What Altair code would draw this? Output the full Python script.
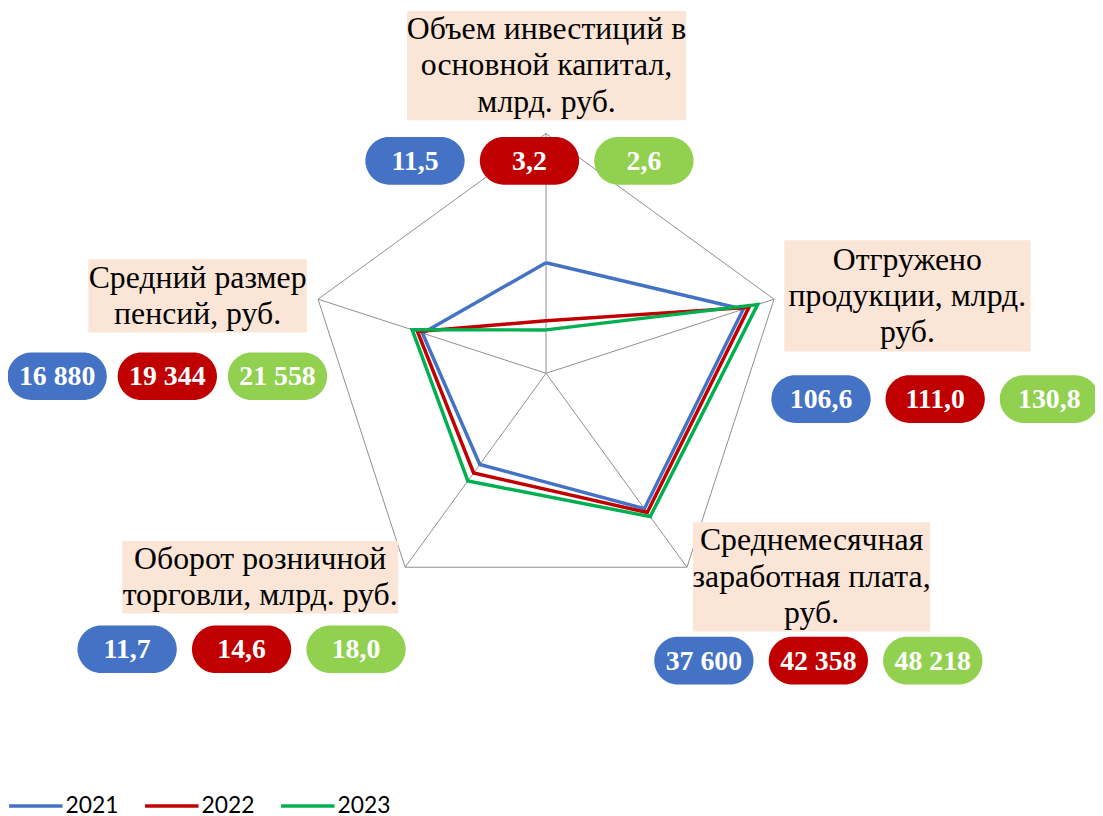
import math
import altair as alt
import pandas as pd

# ---------------- data ----------------
categories = [
    "Объем инвестиций в основной капитал, млрд. руб.",
    "Отгружено продукции, млрд. руб.",
    "Среднемесячная заработная плата, руб.",
    "Оборот розничной торговли, млрд. руб.",
    "Средний размер пенсий, руб.",
]
category_labels = [
    "Объем инвестиций в\nосновной капитал,\nмлрд. руб.",
    "Отгружено\nпродукции, млрд.\nруб.",
    "Среднемесячная\nзаработная плата,\nруб.",
    "Оборот розничной\nторговли, млрд. руб.",
    "Средний размер\nпенсий, руб.",
]
years = ["2021", "2022", "2023"]

# plotted (normalised) position on each radar spoke, % of outer ring
plotted_2021 = [46.1, 86.5, 69.8, 47.0, 54.2]
plotted_2022 = [21.9, 89.0, 71.8, 51.4, 56.4]
plotted_2023 = [18.1, 92.8, 73.9, 55.5, 58.7]

# value captions
values_2021 = ["11,5", "106,6", "37 600", "11,7", "16 880"]
values_2022 = ["3,2", "111,0", "42 358", "14,6", "19 344"]
values_2023 = ["2,6", "130,8", "48 218", "18,0", "21 558"]

line_colors = ["#4472C4", "#C00000", "#00B050"]
pill_colors = ["#4472C4", "#C00000", "#92D050"]

# ---------------- layout (page pixels) ----------------
CX, CY, R = 550, 373, 241.5
MARGIN = 8
W, H = 1095, 808
LINE_H = 36.5
# label box: x0, x1, y0, y1 ; pill row: first centre x, step, centre y
layout = [
    dict(box=(410, 691, 8, 118), pill=(418, 115.3, 159)),
    dict(box=(790, 1038, 239, 351), pill=(827, 115.0, 399)),
    dict(box=(698, 937, 523, 633), pill=(709, 115.3, 662.5)),
    dict(box=(123, 401, 542, 615), pill=(128, 115.3, 651)),
    dict(box=(89, 309, 258, 332), pill=(57.5, 111.0, 376)),
]
PILL_W, PILL_H = 100, 48

n = len(categories)
series = {"2021": plotted_2021, "2022": plotted_2022, "2023": plotted_2023}
captions = {"2021": values_2021, "2022": values_2022, "2023": values_2023}

rows = []
for y in years:
    for k in range(n + 1):
        i = k % n
        rows.append(dict(year=y, idx=i, order=k, value=series[y][i]))
lines_df = pd.DataFrame(rows)

grid_df = pd.DataFrame([dict(idx=k % n, order=k, value=100.0) for k in range(n + 1)])
spokes_df = pd.DataFrame([dict(idx=i, value=100.0) for i in range(n)])

box_rows = []
for i in range(n):
    x0, x1, y0, y1 = layout[i]["box"]
    box_rows.append(dict(category=categories[i], label=category_labels[i],
                         x0=x0, x1=x1, y0=y0, y1=y1))
boxes_df = pd.DataFrame(box_rows)

pill_rows = []
for i in range(n):
    fx, step, cy = layout[i]["pill"]
    for j, y in enumerate(years):
        pill_rows.append(dict(category=categories[i], year=y, text=captions[y][i],
                              cx=fx + j * step, cy=cy))
pills_df = pd.DataFrame(pill_rows)

# ---------------- scales ----------------
xs = alt.Scale(domain=[MARGIN, MARGIN + W], nice=False, zero=False)
ys = alt.Scale(domain=[MARGIN, MARGIN + H], nice=False, zero=False, reverse=True)

polar_x = f"{CX} + {R} * datum.value / 100 * sin(datum.idx * 2 * PI / {n})"
polar_y = f"{CY} - {R} * datum.value / 100 * cos(datum.idx * 2 * PI / {n})"

GRID = "#8F8F8F"

grid_outline = alt.Chart(grid_df).transform_calculate(
    px=polar_x, py=polar_y
).mark_line(color=GRID, strokeWidth=1).encode(
    x=alt.X("px:Q", scale=xs, axis=None),
    y=alt.Y("py:Q", scale=ys, axis=None),
    order="order:O",
)

spokes = alt.Chart(spokes_df).transform_calculate(
    px=polar_x, py=polar_y, cx=f"{CX}", cy=f"{CY}"
).mark_rule(color=GRID, strokeWidth=1).encode(
    x=alt.X("cx:Q", scale=xs, axis=None),
    y=alt.Y("cy:Q", scale=ys, axis=None),
    x2="px:Q",
    y2="py:Q",
)

data_lines = alt.Chart(lines_df).transform_calculate(
    px=polar_x, py=polar_y
).mark_line(strokeWidth=3.5, strokeJoin="miter").encode(
    x=alt.X("px:Q", scale=xs, axis=None),
    y=alt.Y("py:Q", scale=ys, axis=None),
    color=alt.Color(
        "year:N",
        scale=alt.Scale(domain=years, range=line_colors),
        legend=alt.Legend(
            title=None, orient="none", legendX=-1, legendY=772,
            direction="horizontal", symbolType="stroke", symbolSize=2900,
            symbolStrokeWidth=3.5, labelFont="Lato", labelFontSize=23,
            labelColor="#000000", labelOffset=1, columnPadding=19,
            labelBaseline="middle",
        ),
    ),
    order="order:O",
)

boxes = alt.Chart(boxes_df).mark_rect(fill="#FBE5D6").encode(
    x=alt.X("x0:Q", scale=xs, axis=None), x2="x1:Q",
    y=alt.Y("y0:Q", scale=ys, axis=None), y2="y1:Q",
)

box_text = alt.Chart(boxes_df).transform_calculate(
    tx="(datum.x0 + datum.x1) / 2",
    ty=f"(datum.y0 + datum.y1) / 2 - (length(split(datum.label, '\\n')) - 1) * {LINE_H} / 2",
).mark_text(
    font="Liberation Serif", fontSize=32, lineBreak="\n", lineHeight=LINE_H,
    align="center", baseline="middle", color="#000000",
).encode(
    x=alt.X("tx:Q", scale=xs, axis=None),
    y=alt.Y("ty:Q", scale=ys, axis=None),
    text="label:N",
)

pills = alt.Chart(pills_df).transform_calculate(
    x0=f"datum.cx - {PILL_W / 2}", x1=f"datum.cx + {PILL_W / 2}",
    y0=f"datum.cy - {PILL_H / 2}", y1=f"datum.cy + {PILL_H / 2}",
).mark_rect(cornerRadius=PILL_H / 2).encode(
    x=alt.X("x0:Q", scale=xs, axis=None), x2="x1:Q",
    y=alt.Y("y0:Q", scale=ys, axis=None), y2="y1:Q",
    fill=alt.Fill("year:N", scale=alt.Scale(domain=years, range=pill_colors), legend=None),
)

pill_text = alt.Chart(pills_df).mark_text(
    font="Liberation Serif", fontSize=28, fontWeight="bold",
    align="center", baseline="middle", color="#FFFFFF", dy=1,
).encode(
    x=alt.X("cx:Q", scale=xs, axis=None),
    y=alt.Y("cy:Q", scale=ys, axis=None),
    text="text:N",
)

chart = alt.layer(
    grid_outline, spokes, data_lines, boxes, box_text, pills, pill_text
).properties(
    width=W, height=H, padding=0,
    autosize=alt.AutoSizeParams(type="none"),
    background="#FFFFFF",
).configure_view(stroke=None)

chart.save("out.html", embed_options={"renderer": "svg", "actions": False})
